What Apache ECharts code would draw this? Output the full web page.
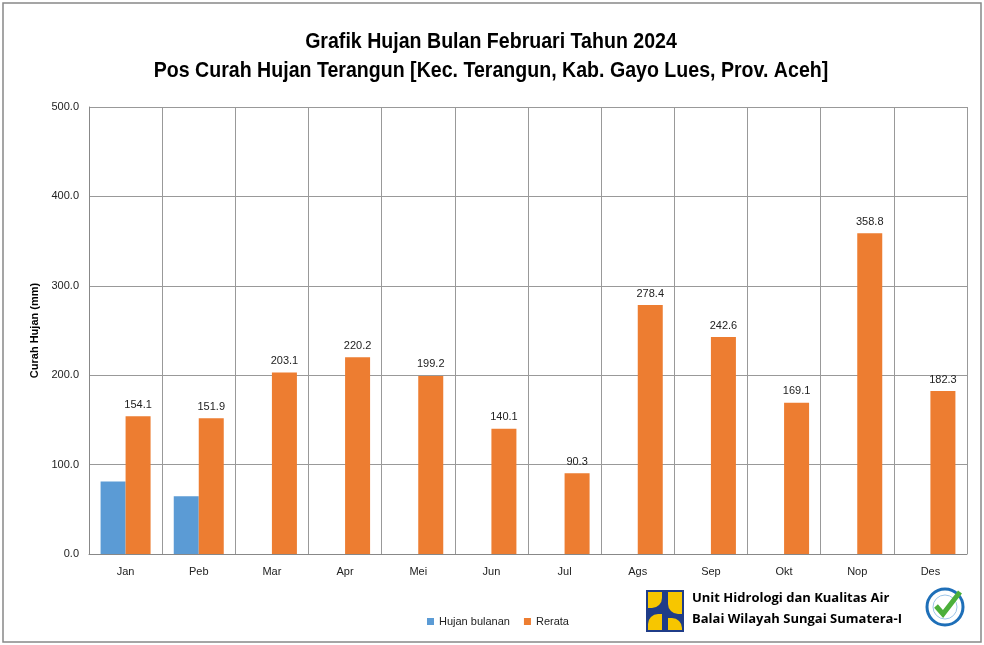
<!DOCTYPE html>
<html><head><meta charset="utf-8">
<script src="https://cdn.jsdelivr.net/npm/echarts@6/dist/echarts.min.js"></script>
<style>html,body{margin:0;padding:0;background:#fff}#c{width:984px;height:645px}</style>
</head><body><div id="c"></div>
<script>
const categories = ['Jan','Peb','Mar','Apr','Mei','Jun','Jul','Ags','Sep','Okt','Nop','Des'];
const hujanBulanan = [81.0, 64.5, null, null, null, null, null, null, null, null, null, null];
const rerata = [154.1, 151.9, 203.1, 220.2, 199.2, 140.1, 90.3, 278.4, 242.6, 169.1, 358.8, 182.3];
const yTicks = [0, 100, 200, 300, 400, 500];
const titleLines = ['Grafik Hujan Bulan Februari Tahun 2024', 'Pos Curah Hujan Terangun [Kec. Terangun, Kab. Gayo Lues, Prov. Aceh]'];

const chart = echarts.init(document.getElementById('c'));
const titleFont = 'bold 22px "Liberation Sans", Arial, sans-serif';
chart.setOption({
  backgroundColor: '#fff',
  animation: false,
  legend: {
    bottom: 13, left: 422,
    itemWidth: 7, itemHeight: 7, itemGap: 14,
    icon: 'rect',
    textStyle: { fontFamily: 'Liberation Sans', fontSize: 11, color: '#222' },
    data: ['Hujan bulanan', 'Rerata']
  },
  grid: { left: 89, right: 17, top: 107, bottom: 91, containLabel: false },
  xAxis: {
    type: 'category', data: categories, boundaryGap: true,
    axisLine: { lineStyle: { color: '#888' } },
    axisTick: { show: false },
    splitLine: { show: true, interval: 0, lineStyle: { color: '#999' } },
    axisLabel: { fontFamily: 'Liberation Sans', fontSize: 11, color: '#222', margin: 12, interval: 0 }
  },
  yAxis: {
    type: 'value', min: yTicks[0], max: yTicks[yTicks.length - 1], interval: 100,
    name: 'Curah Hujan (mm)', nameLocation: 'middle', nameGap: 42,
    nameTextStyle: { fontFamily: 'Liberation Sans', fontWeight: 'bold', fontSize: 11, color: '#000' },
    axisLine: { show: true, lineStyle: { color: '#888' } },
    axisTick: { show: false },
    splitLine: { lineStyle: { color: '#999' } },
    axisLabel: { fontFamily: 'Liberation Sans', fontSize: 11, color: '#222', margin: 10, formatter: v => v.toFixed(1) }
  },
  series: [
    { name: 'Hujan bulanan', type: 'bar', data: hujanBulanan, barWidth: 25, barGap: '0%', itemStyle: { color: '#5B9BD5' } },
    { name: 'Rerata', type: 'bar', data: rerata, barWidth: 25, itemStyle: { color: '#ED7D31' },
      label: { show: true, position: 'top', distance: 6, fontFamily: 'Liberation Sans', fontSize: 11, color: '#222', formatter: p => p.value.toFixed(1) } }
  ],
  graphic: [
    { type: 'rect', shape: { x: 3, y: 3, width: 978, height: 639 }, style: { fill: 'none', stroke: '#888', lineWidth: 1.5 }, silent: true },
    { type: 'text', x: 491, y: 42, scaleX: 0.89, style: { text: titleLines[0], font: titleFont, fill: '#000', align: 'center', verticalAlign: 'middle' } },
    { type: 'text', x: 491, y: 71, scaleX: 0.89, style: { text: titleLines[1], font: titleFont, fill: '#000', align: 'center', verticalAlign: 'middle' } },
    // PU logo
    { type: 'group', left: 646, top: 590, children: [
      { type: 'rect', shape: { x: 0, y: 0, width: 38, height: 42 }, style: { fill: '#1F3C88' } },
      { type: 'rect', shape: { x: 2, y: 2, width: 14, height: 16, r: [0, 0, 10, 0] }, style: { fill: '#F7C600' } },
      { type: 'rect', shape: { x: 22, y: 2, width: 14, height: 22, r: [0, 0, 0, 10] }, style: { fill: '#F7C600' } },
      { type: 'rect', shape: { x: 2, y: 24, width: 14, height: 16, r: [10, 0, 0, 0] }, style: { fill: '#F7C600' } },
      { type: 'rect', shape: { x: 22, y: 28, width: 14, height: 12, r: [0, 10, 0, 0] }, style: { fill: '#F7C600' } }
    ]},
    { type: 'text', left: 692, top: 592, style: { text: 'Unit Hidrologi dan Kualitas Air', font: 'bold 13px "Open Sans", "DejaVu Sans", sans-serif', fill: '#000' } },
    { type: 'text', left: 692, top: 613, style: { text: 'Balai Wilayah Sungai Sumatera-I', font: 'bold 13px "Open Sans", "DejaVu Sans", sans-serif', fill: '#000' } },
    // certified badge
    { type: 'circle', shape: { cx: 945, cy: 607, r: 18 }, style: { fill: '#fff', stroke: '#1E6FB8', lineWidth: 3 } },
    { type: 'circle', shape: { cx: 945, cy: 607, r: 12 }, style: { fill: '#fff', stroke: '#9EC5E8', lineWidth: 1 } },
    { type: 'polyline', shape: { points: [[936, 606], [943, 614], [960, 592]] }, style: { stroke: '#4CAF3A', lineWidth: 5, fill: 'none' } }
  ]
});
</script></body></html>
